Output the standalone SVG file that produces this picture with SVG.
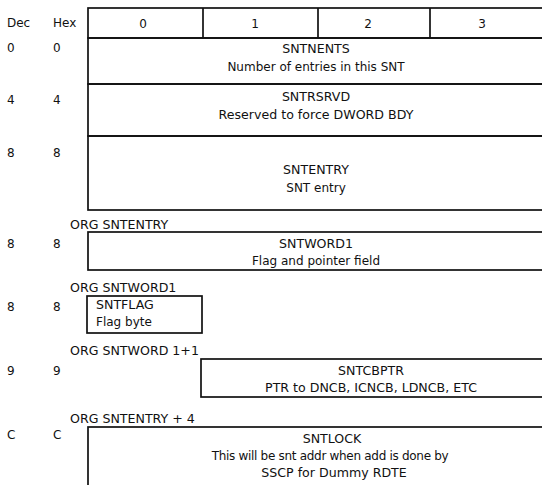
<svg xmlns="http://www.w3.org/2000/svg" width="542" height="485" viewBox="0 0 542 485">
<style>
text{font-family:"DejaVu Sans","Liberation Sans",sans-serif;font-size:12px;fill:#111}
.c{text-anchor:middle}
.n{font-size:12.6px}
.t{letter-spacing:-0.3px}
.box{fill:none;stroke:#111;stroke-width:1.7}
.ln{stroke:#111;stroke-width:1.7}
</style>
<rect width="542" height="485" fill="#fff"/>
<g id="header">
<text x="7" y="27">Dec</text>
<text x="53" y="27">Hex</text>
<rect class="box" x="88" y="8" width="470" height="30"/>
<line class="ln" x1="203" y1="8" x2="203" y2="38"/>
<line class="ln" x1="318" y1="8" x2="318" y2="38"/>
<line class="ln" x1="430" y1="8" x2="430" y2="38"/>
<text class="c" x="143" y="28">0</text>
<text class="c" x="255" y="28">1</text>
<text class="c" x="368" y="28">2</text>
<text class="c" x="482" y="28">3</text>
</g>
<g id="sntnents">
<text x="7" y="52">0</text><text x="53" y="52">0</text>
<rect class="box" x="88" y="38" width="470" height="46"/>
<text class="c n" x="316" y="53">SNTNENTS</text>
<text class="c" x="316" y="71">Number of entries in this SNT</text>
</g>
<g id="sntrsrvd">
<text x="7" y="104">4</text><text x="53" y="104">4</text>
<rect class="box" x="88" y="84" width="470" height="52"/>
<text class="c n" x="316" y="101">SNTRSRVD</text>
<text class="c n" x="316" y="119">Reserved to force DWORD BDY</text>
</g>
<g id="sntentry">
<text x="7" y="157">8</text><text x="53" y="157">8</text>
<rect class="box" x="88" y="136" width="470" height="74"/>
<text class="c n" x="316" y="174">SNTENTRY</text>
<text class="c" x="316" y="192">SNT entry</text>
</g>
<g id="sntword1">
<text class="n" x="70" y="229">ORG SNTENTRY</text>
<text x="7" y="248">8</text><text x="53" y="248">8</text>
<rect class="box" x="88" y="232" width="470" height="38"/>
<text class="c n" x="316" y="248">SNTWORD1</text>
<text class="c" x="316" y="265">Flag and pointer field</text>
</g>
<g id="sntflag">
<text class="n" x="70" y="292">ORG SNTWORD1</text>
<text x="7" y="311">8</text><text x="53" y="311">8</text>
<rect class="box" x="87" y="296" width="115" height="37"/>
<text class="n" x="96" y="309">SNTFLAG</text>
<text x="96" y="326">Flag byte</text>
</g>
<g id="sntcbptr">
<text class="n" x="70" y="355">ORG SNTWORD 1+1</text>
<text x="7" y="375">9</text><text x="53" y="375">9</text>
<rect class="box" x="201" y="359" width="357" height="38"/>
<text class="c n" x="371" y="375">SNTCBPTR</text>
<text class="c n" x="371" y="392">PTR to DNCB, ICNCB, LDNCB, ETC</text>
</g>
<g id="sntlock">
<text class="n" x="70" y="423">ORG SNTENTRY + 4</text>
<text x="7" y="439">C</text><text x="53" y="439">C</text>
<rect class="box" x="88" y="427" width="470" height="80"/>
<text class="c n" x="332" y="443">SNTLOCK</text>
<text class="c t" x="330" y="460">This will be snt addr when add is done by</text>
<text class="c n" x="334" y="477">SSCP for Dummy RDTE</text>
</g>
<g id="connectors"/>
</svg>
